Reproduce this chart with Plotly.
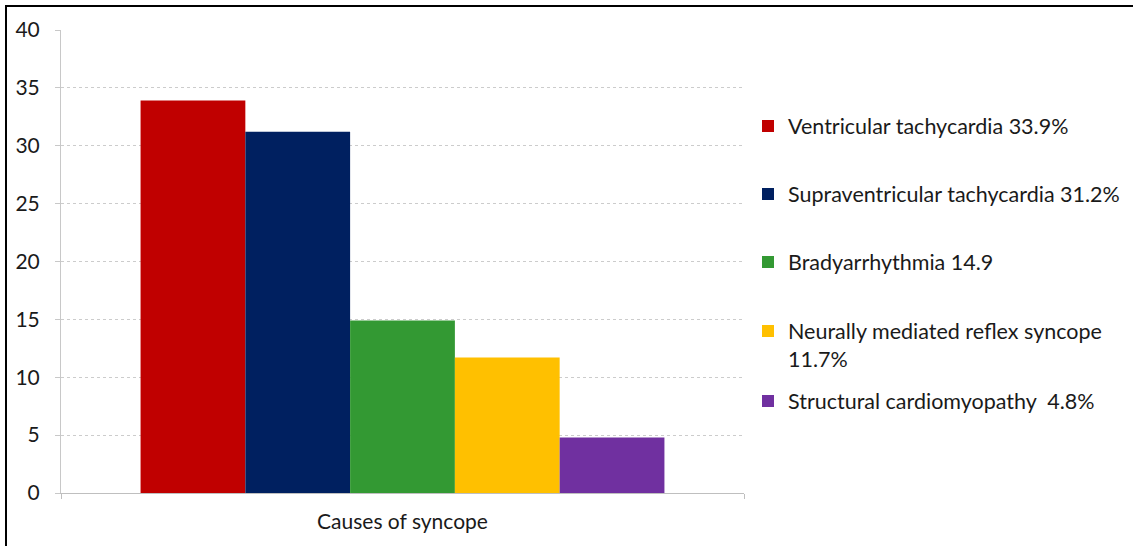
import plotly.graph_objects as go

category = ["Causes of syncope"]
series_names = [
    "Ventricular tachycardia 33.9%",
    "Supraventricular tachycardia 31.2%",
    "Bradyarrhythmia 14.9",
    "Neurally mediated reflex syncope<br>11.7%",
    "Structural cardiomyopathy  4.8%",
]
values = [33.9, 31.2, 14.9, 11.7, 4.8]
colors = ["#c00000", "#002060", "#339933", "#ffc000", "#7030a0"]
y_ticks = [0, 5, 10, 15, 20, 25, 30, 35, 40]

W, H = 1133, 546
L, R, T, B = 61, 389, 30, 53
pw, ph = W - L - R, H - T - B

def px_x(px):
    return (px - L) / pw

def px_y(py):
    return (H - B - py) / ph

FONT = "Lato"
TXT = "#1a1a1a"
fig = go.Figure()
legend_centers = [126, 194, 262, 345, 401]
legend_layouts = {}
for i, (n, v, c) in enumerate(zip(series_names, values, colors)):
    lname = "legend" if i == 0 else f"legend{i+1}"
    fig.add_trace(go.Bar(
        x=category, y=[v], name=n, marker=dict(color=c, line=dict(width=0)),
        legend=lname,
    ))
    legend_layouts[lname] = dict(
        x=px_x(748), y=px_y(legend_centers[i]), xanchor="left", yanchor="middle",
        valign="top",
        font=dict(family=FONT, size=21.5, color=TXT),
        bgcolor="rgba(0,0,0,0)", borderwidth=0,
        tracegroupgap=0, itemclick=False,
    )

fig.update_layout(
    width=W, height=H,
    margin=dict(l=L, r=R, t=T, b=B, autoexpand=False),
    paper_bgcolor="white", plot_bgcolor="white",
    barmode="group", bargap=0.233, bargroupgap=0,
    showlegend=True,
    font=dict(family=FONT, size=20, color=TXT),
    xaxis=dict(
        type="category", showgrid=False, showline=True, linecolor="#bfbfbf",
        linewidth=1, ticks="outside", tickson="boundaries", ticklen=5,
        tickcolor="#bfbfbf", tickfont=dict(family=FONT, size=21, color=TXT),
        ticklabelstandoff=10,
    ),
    yaxis=dict(
        range=[0, 40], tickvals=y_ticks, showgrid=True, gridcolor="#cccccc",
        griddash="dot", gridwidth=1, showline=True, linecolor="#c8c8c8",
        ticks="outside", ticklen=5, tickcolor="#c8c8c8",
        tickfont=dict(family=FONT, size=21, color=TXT),
        ticklabelstandoff=11, zeroline=False,
    ),
    **legend_layouts,
)

# outer frame (top and left edges of the original bordered image)
fig.add_shape(type="line", xref="paper", yref="paper",
              x0=px_x(5), x1=px_x(1140), y0=px_y(6), y1=px_y(6),
              line=dict(color="black", width=2))
fig.add_shape(type="line", xref="paper", yref="paper",
              x0=px_x(6), x1=px_x(6), y0=px_y(5), y1=px_y(560),
              line=dict(color="black", width=2))

fig.write_html("out.html",
               config={"displayModeBar": False},
               post_script="document.body.style.margin='0';document.body.style.overflow='hidden';")
